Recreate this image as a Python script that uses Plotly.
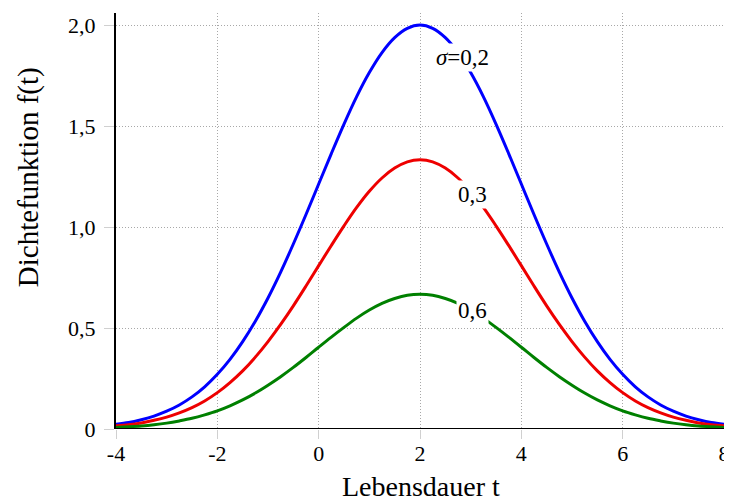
import plotly.graph_objects as go

t = [-4, -3.75, -3.5, -3.25, -3, -2.75, -2.5, -2.25, -2, -1.75, -1.5, -1.25,
     -1, -0.75, -0.5, -0.25, 0, 0.25, 0.5, 0.75, 1, 1.25, 1.5, 1.75, 2,
     2.25, 2.5, 2.75, 3, 3.25, 3.5, 3.75, 4, 4.25, 4.5, 4.75, 5, 5.25,
     5.5, 5.75, 6, 6.25, 6.5, 6.75, 7, 7.25, 7.5, 7.75, 8]
f_02 = [0.024, 0.032, 0.046, 0.064, 0.088, 0.119, 0.159, 0.209, 0.271, 0.345, 0.433, 0.534,
        0.649, 0.777, 0.916, 1.062, 1.213, 1.364, 1.510, 1.646, 1.765, 1.864, 1.938, 1.984, 2.0,
        1.984, 1.938, 1.864, 1.765, 1.646, 1.510, 1.364, 1.213, 1.062, 0.916, 0.777, 0.649, 0.534,
        0.433, 0.345, 0.271, 0.209, 0.159, 0.119, 0.088, 0.064, 0.046, 0.032, 0.024]
f_03 = [0.016, 0.021, 0.030, 0.043, 0.059, 0.080, 0.106, 0.139, 0.180, 0.230, 0.288, 0.356,
        0.433, 0.518, 0.610, 0.708, 0.809, 0.909, 1.006, 1.097, 1.177, 1.243, 1.292, 1.323, 1.333,
        1.323, 1.292, 1.243, 1.177, 1.097, 1.006, 0.909, 0.809, 0.708, 0.610, 0.518, 0.433, 0.356,
        0.288, 0.230, 0.180, 0.139, 0.106, 0.080, 0.059, 0.043, 0.030, 0.021, 0.016]
f_06 = [0.008, 0.011, 0.015, 0.021, 0.029, 0.040, 0.053, 0.070, 0.090, 0.115, 0.144, 0.178,
        0.217, 0.259, 0.305, 0.354, 0.405, 0.455, 0.503, 0.549, 0.589, 0.622, 0.646, 0.662, 0.667,
        0.662, 0.646, 0.622, 0.589, 0.549, 0.503, 0.455, 0.405, 0.354, 0.305, 0.259, 0.217, 0.178,
        0.144, 0.115, 0.090, 0.070, 0.053, 0.040, 0.029, 0.021, 0.015, 0.011, 0.008]

x_tickvals = [-4, -2, 0, 2, 4, 6, 8]
x_ticktext = ["-4", "-2", "0", "2", "4", "6", "8"]
y_tickvals = [0, 0.5, 1.0, 1.5, 2.0]
y_ticktext = ["0", "0,5", "1,0", "1,5", "2,0"]

labels = ["<i>σ</i>=0,2", "0,3", "0,6"]
label_x = [2.84, 3.03, 3.03]
label_y = [1.84, 1.16, 0.585]

FONT = "Liberation Serif"

fig = go.Figure()
for y, c in [(f_02, "#0000ff"), (f_03, "#ee0000"), (f_06, "#008000")]:
    fig.add_trace(go.Scatter(x=t, y=y, mode="lines",
                             line=dict(color=c, width=3, shape="spline", smoothing=1.0),
                             showlegend=False, hoverinfo="skip"))

for txt, lx, ly in zip(labels, label_x, label_y):
    fig.add_annotation(x=lx, y=ly, text=txt, showarrow=False,
                       font=dict(family=FONT, size=23, color="black"),
                       bgcolor="white", borderpad=1)

fig.add_annotation(xref="paper", yref="paper", x=0.502, y=-0.139,
                   xanchor="center", yanchor="middle",
                   text="Lebensdauer t", showarrow=False,
                   font=dict(family=FONT, size=28, color="black"))
fig.add_annotation(xref="paper", yref="paper", x=-0.145, y=0.605,
                   xanchor="center", yanchor="middle",
                   text="Dichtefunktion f(t)", showarrow=False, textangle=-90,
                   font=dict(family=FONT, size=29, color="black"))

GRID = "#a8a8a8"
fig.update_xaxes(range=[-4, 8], tickvals=x_tickvals, ticktext=x_ticktext,
                 showgrid=True, gridcolor=GRID, griddash="1px,2px", gridwidth=1,
                 ticks="outside", ticklen=9, tickcolor="#d0d0d0", tickwidth=1,
                 showline=False, zeroline=False, ticklabelstandoff=-4,
                 ticklabeloverflow="allow",
                 tickfont=dict(family=FONT, size=22, color="black"))
fig.update_yaxes(range=[0, 2.06], tickvals=y_tickvals, ticktext=y_ticktext,
                 showgrid=True, gridcolor=GRID, griddash="1px,2px", gridwidth=1,
                 ticks="outside", ticklen=10, tickcolor="#d0d0d0", tickwidth=1,
                 showline=True, linecolor="black", linewidth=2,
                 zeroline=False, ticklabelstandoff=4,
                 tickfont=dict(family=FONT, size=22, color="black"))

fig.add_shape(type="line", xref="paper", yref="y", x0=0, x1=1.01, y0=0, y1=0,
              line=dict(color="black", width=2))

# page body has an 8px margin, so the figure is sized/offset to compensate
fig.update_layout(width=724, height=496,
                  margin=dict(l=108, r=2, t=5, b=75),
                  plot_bgcolor="white", paper_bgcolor="white",
                  font=dict(family=FONT))

fig.write_html("out.html")
